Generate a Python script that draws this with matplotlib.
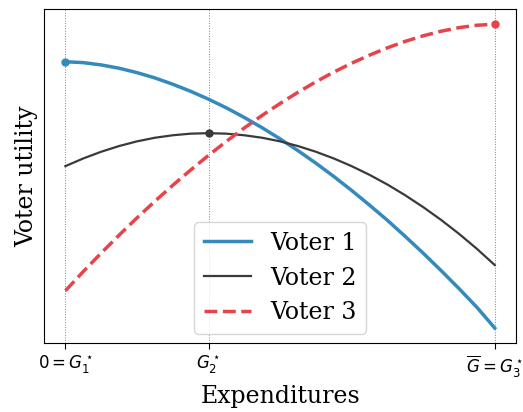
import matplotlib
matplotlib.use("Agg")
import matplotlib.pyplot as plt

# expenditure grid (0 = G1*, 1 = G2*, 3 = Gbar = G3*)
expenditures = [0, 0.125, 0.25, 0.375, 0.5, 0.625, 0.75, 0.875,
                1.0, 1.125, 1.25, 1.375, 1.5, 1.625, 1.75, 1.875,
                2.0, 2.125, 2.25, 2.375, 2.5, 2.625, 2.75, 2.875, 3.0]

# utilities (arbitrary units, higher = better)
voter1 = [288.5, 287.6, 285.3, 282.0, 277.6, 272.3, 266.0, 258.9,
          251.0, 242.3, 232.7, 222.4, 211.3, 199.5, 187.0, 173.7,
          159.7, 145.0, 129.8, 113.6, 96.9, 79.5, 61.5, 42.8, 22.0]
voter2 = [184.0, 191.7, 198.4, 204.1, 208.8, 212.4, 214.9, 216.5,
          217.0, 216.5, 214.9, 212.4, 208.8, 204.1, 198.4, 191.7,
          184.0, 175.3, 165.6, 154.8, 143.0, 130.2, 116.3, 101.3, 85.0]
voter3 = [59.3, 78.5, 97.0, 114.9, 132.2, 148.8, 164.8, 180.1,
          194.8, 208.8, 222.2, 234.8, 246.7, 257.9, 268.4, 278.1,
          287.0, 295.1, 302.4, 308.9, 314.4, 319.0, 322.6, 325.0, 326.0]

tick_pos = [0, 1, 3]
tick_labels = [r"$0 = G_1^\star$", r"$G_2^\star$", r"$\overline{G} = G_3^\star$"]

blue = "#348ABD"
gray = "#3a3a3a"
red = "#E8434A"

fig = plt.figure(figsize=(5.23, 4.12), dpi=100)
ax = fig.add_axes([0.084, 0.167, 0.903, 0.811])

for x in tick_pos:
    ax.axvline(x, color="gray", lw=0.7, ls=":", zorder=0)

ax.plot(expenditures, voter1, color=blue, lw=2.5, label="Voter 1")
ax.plot(expenditures, voter2, color=gray, lw=1.6, label="Voter 2")
ax.plot(expenditures, voter3, color=red, lw=2.5, ls="--", label="Voter 3")

# each voter's ideal point
ideal = [(voter1, 0, blue), (voter2, 1, gray), (voter3, 3, red)]
for series, g, c in ideal:
    ax.plot(g, series[expenditures.index(g)], "o", color=c, ms=5)

ax.set_xticks(tick_pos)
ax.set_xticklabels(tick_labels, fontsize=12)
ax.set_yticks([])
ax.tick_params(axis="x", direction="out", length=4)

ax.set_xlabel("Expenditures", family="DejaVu Serif", fontsize=17)
ax.set_ylabel("Voter utility", family="DejaVu Serif", fontsize=17)

ax.legend(loc="lower center", prop={"family": "DejaVu Serif", "size": 17},
          handlelength=2.0, borderaxespad=0.4)

fig.savefig("out.png", dpi=100)
